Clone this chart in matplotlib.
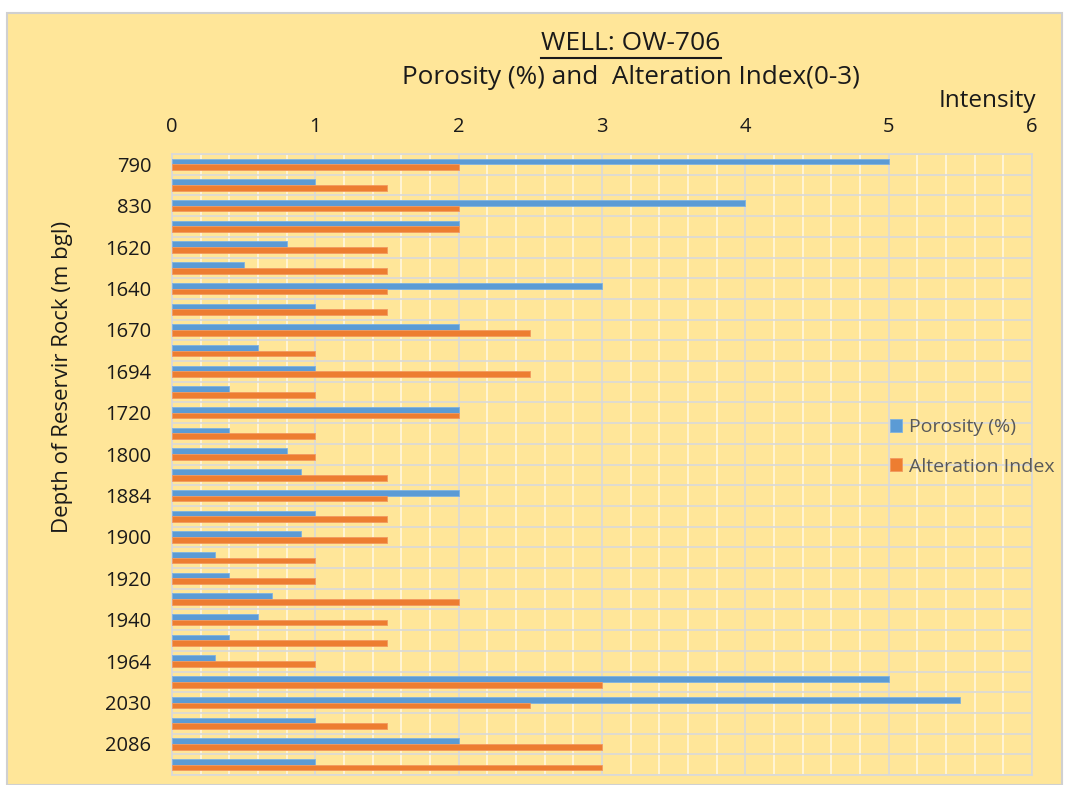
import matplotlib
matplotlib.use('Agg')
import matplotlib.pyplot as plt
import numpy as np
from matplotlib.patches import Rectangle
from matplotlib.lines import Line2D
from matplotlib.ticker import MultipleLocator, FixedLocator

# ---- data ----
depth_labels = ["790", "", "830", "", "1620", "", "1640", "", "1670", "",
                "1694", "", "1720", "", "1800", "", "1884", "", "1900", "",
                "1920", "", "1940", "", "1964", "", "2030", "", "2086", ""]
porosity = [5, 1, 4, 2, 0.8, 0.5, 3, 1, 2, 0.6,
            1, 0.4, 2, 0.4, 0.8, 0.9, 2, 1, 0.9, 0.3,
            0.4, 0.7, 0.6, 0.4, 0.3, 5, 5.5, 1, 2, 1]
alteration = [2, 1.5, 2, 2, 1.5, 1.5, 1.5, 1.5, 2.5, 1,
              2.5, 1, 2, 1, 1, 1.5, 1.5, 1.5, 1.5, 1,
              1, 2, 1.5, 1.5, 1, 3, 2.5, 1.5, 3, 3]
x_ticks = [0, 1, 2, 3, 4, 5, 6]
series_names = ["Porosity (%)", "Alteration Index"]

# ---- style ----
BG = '#FFE699'
BLUE = '#5B9BD5'
ORANGE = '#ED7D31'
GRID = '#D9D9D9'
TXT = '#1a1a1a'
plt.rcParams['font.family'] = ['Open Sans', 'DejaVu Sans']

W, H = 1065, 785
fig = plt.figure(figsize=(W / 100, H / 100), dpi=100, facecolor='white')
fig.patches.append(Rectangle((7 / W, 0), 1 - 10 / W, 1 - 13 / H, transform=fig.transFigure,
                             facecolor=BG, edgecolor='#D0D0D0', lw=1.5, zorder=-10))

ax = fig.add_axes([172 / W, 1 - 775 / H, (1032 - 172) / W, (775 - 154) / H])
ax.set_zorder(1)
ax.set_facecolor(BG)

n = len(porosity)
y = np.arange(n)
bh = 0.275
ax.barh(y - bh / 2, porosity, height=bh, color=BLUE, edgecolor='#7FB2E0', lw=0.6,
        label=series_names[0], zorder=3)
ax.barh(y + bh / 2, alteration, height=bh, color=ORANGE, edgecolor='#F29A60', lw=0.6,
        label=series_names[1], zorder=3)

ax.set_xlim(0, 6)
ax.set_ylim(n - 0.5, -0.5)
ax.xaxis.tick_top()
ax.set_xticks(x_ticks)
ax.set_xticklabels([str(t) for t in x_ticks])
ax.xaxis.set_minor_locator(MultipleLocator(0.2))
ax.set_yticks(y)
ax.set_yticklabels(depth_labels)
ax.yaxis.set_minor_locator(FixedLocator(np.arange(n + 1) - 0.5))
ax.tick_params(axis='both', which='both', length=0)
ax.tick_params(axis='x', which='major', labelsize=14.5, pad=12, labelcolor=TXT)
ax.tick_params(axis='y', which='major', labelsize=14.5, pad=15, labelcolor=TXT)

ax.grid(axis='x', which='minor', color='#FFF8E0', lw=1.2, zorder=1)
ax.grid(axis='x', which='major', color=GRID, lw=1.2, zorder=1)
ax.grid(axis='y', which='minor', color=GRID, lw=1.2, zorder=1)
ax.grid(axis='y', which='major', visible=False)
ax.set_axisbelow(True)
for s in ax.spines.values():
    s.set_color(GRID)
    s.set_linewidth(1.2)

# titles
t1 = fig.text(631 / W, 1 - 44 / H, "WELL: OW-706", ha='center', va='center', fontsize=19, color=TXT)
fig.text(631 / W, 1 - 78 / H, "Porosity (%) and  Alteration Index(0-3)", ha='center', va='center',
         fontsize=18.8, color=TXT)
fig.text(1036 / W, 1 - 101 / H, "Intensity", ha='right', va='center', fontsize=17.5, color=TXT)
fig.text(63 / W, 1 - 377 / H, "Depth of Reservir Rock (m bgl)", ha='center', va='center',
         rotation=90, fontsize=16, color=TXT)

fig.canvas.draw()
bb = t1.get_window_extent()
uy = bb.y0 - 1
fig.lines.append(Line2D([bb.x0 / W, bb.x1 / W], [uy / H, uy / H], transform=fig.transFigure,
                        color=TXT, lw=1.5))

leg = ax.legend(loc='center left', bbox_to_anchor=(872 / W, 1 - 447 / H), bbox_transform=fig.transFigure,
                frameon=False, fontsize=14.0, handlelength=0.65, handleheight=0.65,
                handletextpad=0.35, labelspacing=1.1)
for txt in leg.get_texts():
    txt.set_color('#595959')

fig.savefig('out.png', dpi=100, facecolor='white')
